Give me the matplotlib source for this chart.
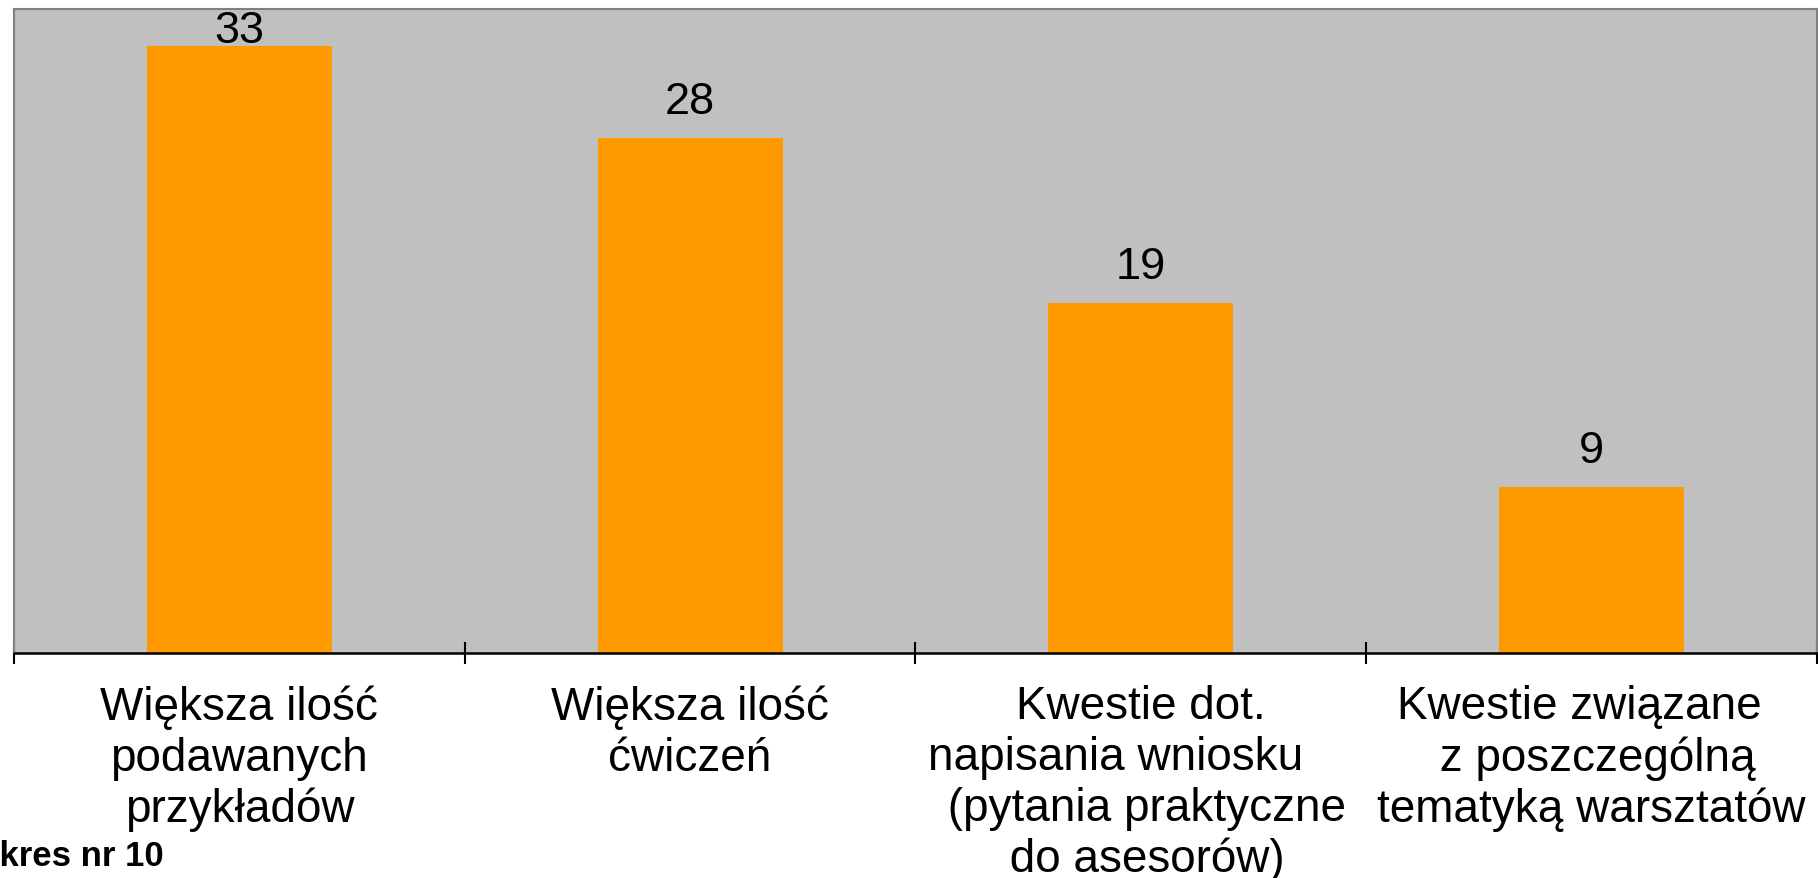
import numpy as np
import matplotlib.pyplot as plt

plt.rcParams['font.family'] = ['Liberation Sans', 'DejaVu Sans']

categories = ['Większa ilość\npodawanych\nprzykładów',
              'Większa ilość\nćwiczeń',
              'Kwestie dot.\nnapisania wniosku    \n (pytania praktyczne\n do asesorów)',
              'Kwestie związane  \n z poszczególną\ntematyką warsztatów']
values = [33, 28, 19, 9]
ymax = 35

fig = plt.figure(figsize=(18.18, 8.79), dpi=100)
ax = fig.add_axes([14/1818, (879-654)/879, (1817-14)/1818, (654-10)/879])
ax.set_facecolor('#C0C0C0')

x = np.arange(len(values))
ax.bar(x, values, width=0.41, color='#FF9900', zorder=2)

for xi, v in zip(x, values):
    # label sits above the bar, but never past the top of the plot area
    y = min(v + 1.36, ymax - 1.8)
    ax.text(xi, y, str(v), ha='center', va='baseline', fontsize=32.5, color='black')

ax.set_xlim(-0.5, len(values) - 0.5)
ax.set_ylim(0, ymax)
ax.set_yticks([])

ax.set_xticks(np.arange(len(values) + 1) - 0.5)
ax.set_xticklabels([])
ax.tick_params(axis='x', which='major', direction='inout', length=16, width=1.5, color='black')
ax.set_xticks(x, minor=True)
ax.set_xticklabels(categories, minor=True, fontsize=33, linespacing=1.2)
ax.tick_params(axis='x', which='minor', length=0, pad=22.5)

for s in ['top', 'left', 'right']:
    ax.spines[s].set_color('#808080')
    ax.spines[s].set_linewidth(1.5)
ax.spines['bottom'].set_color('black')
ax.spines['bottom'].set_linewidth(1.8)

fig.text(-52/1818, (879-866)/879, 'Wykres nr 10', fontsize=25, fontweight='bold',
         ha='left', va='baseline')

fig.savefig('out.png', dpi=100)
